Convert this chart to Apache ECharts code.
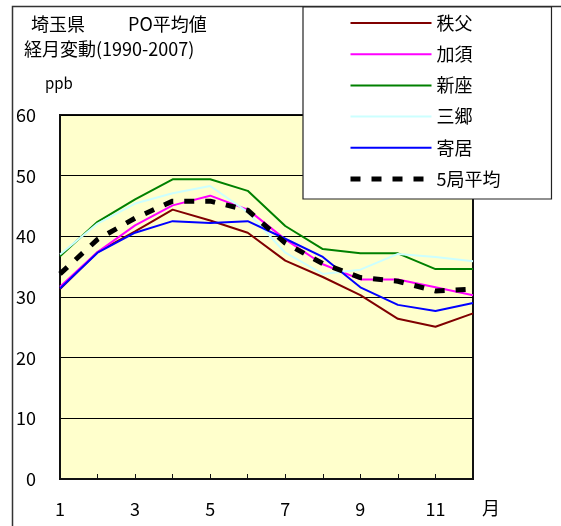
<!DOCTYPE html>
<html>
<head>
<meta charset="utf-8">
<script src="https://cdn.jsdelivr.net/npm/echarts@6/dist/echarts.min.js"></script>
<style>
html,body{margin:0;padding:0;background:#fff;}
#chart{width:561px;height:526px;}
</style>
</head>
<body>
<div id="chart"></div>
<script>
// ---- data ----
const months = ['1','2','3','4','5','6','7','8','9','10','11','12'];
const yTicks = [0, 10, 20, 30, 40, 50, 60];
const seriesNames = ['秩父', '加須', '新座', '三郷', '寄居', '5局平均'];
const chichibu = [31.3, 37.4, 40.8, 44.4, 42.6, 40.6, 36.0, 33.3, 30.3, 26.4, 25.1, 27.3];
const kazo     = [31.7, 37.4, 41.8, 45.1, 46.7, 44.4, 39.5, 35.4, 32.9, 32.9, 31.6, 30.3];
const niiza    = [36.7, 42.4, 46.1, 49.4, 49.4, 47.5, 41.7, 37.9, 37.2, 37.2, 34.6, 34.6];
const misato   = [37.0, 42.1, 45.4, 47.1, 48.3, 44.0, 37.3, 33.8, 34.5, 37.1, 36.6, 35.9];
const yorii    = [31.4, 37.3, 40.6, 42.5, 42.2, 42.5, 39.6, 36.6, 31.6, 28.7, 27.7, 29.0];
const avg5     = [33.8, 39.5, 43.0, 45.8, 45.8, 44.3, 38.9, 35.5, 33.2, 32.6, 31.0, 31.3];

const FONT = '"Noto Sans CJK JP", "Noto Sans", sans-serif';
const colors = ['#800000', '#FF00FF', '#008000', '#CCFFFF', '#0000FF', '#000000'];
const values = [chichibu, kazo, niiza, misato, yorii, avg5];

const chart = echarts.init(document.getElementById('chart'), null, {renderer: 'canvas'});

const series = seriesNames.map((name, i) => ({
  name: name,
  type: 'line',
  data: values[i],
  symbol: 'none',
  smooth: false,
  z: i === 5 ? 10 : 2 + i,
  lineStyle: i === 5
    ? {color: colors[i], width: 5, type: [10, 11], cap: 'butt'}
    : {color: colors[i], width: 2},
  itemStyle: {color: colors[i]},
  emphasis: {disabled: true}
}));

chart.setOption({
  animation: false,
  textStyle: {fontFamily: FONT},
  grid: {
    left: 60, top: 115, right: 88, bottom: 47,
    show: true, backgroundColor: '#FFFFCC', borderColor: '#111', borderWidth: 2,
    containLabel: false
  },
  legend: {
    orient: 'vertical',
    left: 303, top: 7,
    padding: [7, 51, 11, 45],
    backgroundColor: '#fff',
    borderColor: '#222', borderWidth: 1.2,
    itemWidth: 81, itemHeight: 16, itemGap: 13.2,
    data: seriesNames.slice(),
    itemStyle: {opacity: 0},
    lineStyle: {width: 'inherit'},
    textStyle: {fontSize: 18, color: '#000', fontFamily: FONT, lineHeight: 16},
    selectedMode: false
  },
  xAxis: {
    type: 'category',
    data: months,
    boundaryGap: false,
    axisLine: {show: true, lineStyle: {color: '#111', width: 2}},
    axisTick: {show: true, inside: true, length: 5, interval: 0, lineStyle: {color: '#111', width: 1}},
    axisLabel: {interval: 1, margin: 21, fontSize: 18, color: '#000', fontFamily: FONT},
    splitLine: {show: false}
  },
  yAxis: {
    type: 'value',
    min: yTicks[0], max: yTicks[yTicks.length - 1], interval: 10,
    axisLine: {show: true, lineStyle: {color: '#111', width: 2}},
    axisTick: {show: false},
    axisLabel: {margin: 24, fontSize: 18, color: '#000', fontFamily: FONT},
    splitLine: {show: true, lineStyle: {color: '#000', width: 1}}
  },
  series: series,
  graphic: [
    {type: 'rect', left: 10, top: 4, z: -10, silent: true,
     shape: {width: 700, height: 700},
     style: {fill: 'none', stroke: '#333', lineWidth: 1.5}},
    {type: 'text', left: 31, top: 15, style: {text: '埼玉県', font: '18px ' + FONT, fill: '#000'}},
    {type: 'text', left: 128, top: 15, style: {text: 'PO平均値', font: '18px ' + FONT, fill: '#000'}},
    {type: 'text', left: 24, top: 40, style: {text: '経月変動(1990-2007)', font: '18px ' + FONT, fill: '#000'}},
    {type: 'text', left: 45, top: 76, style: {text: 'ppb', font: '15px ' + FONT, fill: '#000'}},
    {type: 'text', left: 482, top: 499, style: {text: '月', font: '18px ' + FONT, fill: '#000'}}
  ]
});
</script>
</body>
</html>
